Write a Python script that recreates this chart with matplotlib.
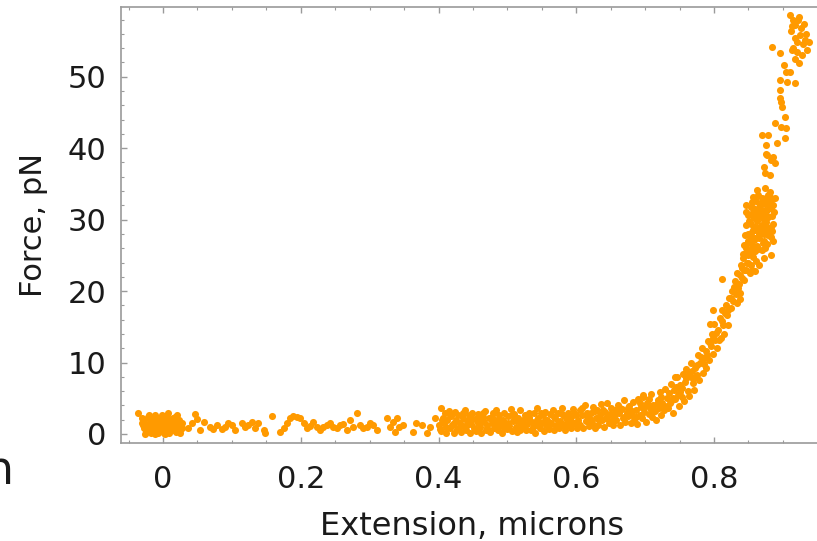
import matplotlib
matplotlib.use("Agg")
import matplotlib.pyplot as plt
from matplotlib.ticker import MultipleLocator
import numpy as np

# ---------------- data ----------------
# dense blob around zero extension
ext_blob = [-0.036, -0.031, -0.030, -0.028, -0.027, -0.025, -0.024, -0.022, -0.021, -0.019,
            -0.018, -0.017, -0.015, -0.014, -0.013, -0.011, -0.010, -0.009, -0.008, -0.006,
            -0.005, -0.004, -0.003, -0.001, 0.000, 0.001, 0.002, 0.004, 0.005, 0.006,
            0.007, 0.008, 0.009, 0.011, 0.012, 0.013, 0.015, 0.016, 0.018, 0.019,
            0.020, 0.022, 0.023, 0.025, 0.027, 0.028, -0.026, -0.020, -0.012, -0.002,
            0.003, 0.010, -0.016, -0.007, 0.014, -0.023, 0.017, 0.021, -0.029, 0.024]
force_blob = [2.9, 2.2, 1.5, 0.8, 1.9, 0.3, 1.2, 2.4, 0.6, 1.7,
              0.1, 1.0, 2.1, 0.4, 1.4, 2.6, 0.8, 1.8, 0.2, 1.2,
              2.3, 0.5, 1.6, 0.9, 2.0, 0.2, 1.3, 2.5, 0.6, 1.7,
              2.9, 1.0, 0.1, 2.1, 1.4, 0.5, 1.8, 0.9, 2.4, 0.3,
              1.5, 1.1, 2.0, 0.6, 1.6, 0.9, 0.0, 2.7, 0.0, 2.7,
              0.0, 1.9, 1.3, 0.7, 2.3, 1.0, 1.2, 2.6, 1.3, 0.2]

# sparse points between 0.03 and 0.40 microns
ext_sparse = [0.037, 0.042, 0.046, 0.050, 0.054, 0.059, 0.068, 0.073, 0.078, 0.085,
              0.090, 0.095, 0.100, 0.105, 0.114, 0.119, 0.124, 0.129, 0.134, 0.138,
              0.146, 0.148, 0.158, 0.170, 0.175, 0.180, 0.184, 0.189, 0.194, 0.199,
              0.204, 0.209, 0.213, 0.218, 0.223, 0.228, 0.233, 0.238, 0.242, 0.247,
              0.252, 0.257, 0.262, 0.267, 0.271, 0.276, 0.281, 0.286, 0.291, 0.296,
              0.301, 0.305, 0.310, 0.325, 0.330, 0.334, 0.337, 0.339, 0.342, 0.349,
              0.363, 0.368, 0.376, 0.383, 0.388, 0.395, 0.402]
force_sparse = [0.79, 1.49, 2.75, 2.05, 0.56, 1.73, 1.03, 0.70, 1.26, 0.65,
                1.03, 1.49, 1.26, 0.56, 1.49, 1.03, 1.26, 1.73, 0.79, 1.49,
                0.56, 0.19, 2.52, 0.33, 0.79, 1.49, 2.19, 2.52, 2.42, 2.19,
                1.49, 0.79, 1.12, 1.73, 1.03, 0.56, 1.03, 1.26, 1.49, 1.03,
                0.79, 1.26, 1.40, 0.56, 1.96, 1.03, 2.89, 1.26, 0.79, 1.03,
                1.49, 1.26, 0.56, 2.19, 1.03, 1.73, 0.33, 2.19, 1.03, 1.26,
                0.33, 1.49, 1.26, 0.19, 1.03, 2.19, 0.65]

# dense band from 0.40 to 0.73 microns
ext_band = [0.401, 0.403, 0.404, 0.406, 0.408, 0.409, 0.411, 0.413, 0.415, 0.417,
            0.418, 0.420, 0.422, 0.424, 0.425, 0.427, 0.429, 0.431, 0.433, 0.435,
            0.436, 0.438, 0.440, 0.442, 0.444, 0.446, 0.447, 0.449, 0.451, 0.453,
            0.455, 0.457, 0.458, 0.460, 0.462, 0.464, 0.466, 0.468, 0.469, 0.471,
            0.473, 0.475, 0.477, 0.479, 0.480, 0.482, 0.484, 0.486, 0.488, 0.490,
            0.492, 0.494, 0.495, 0.497, 0.499, 0.501, 0.503, 0.505, 0.506, 0.508,
            0.510, 0.512, 0.514, 0.516, 0.518, 0.519, 0.521, 0.523, 0.525, 0.527,
            0.529, 0.531, 0.532, 0.534, 0.536, 0.538, 0.540, 0.542, 0.543, 0.545,
            0.547, 0.549, 0.551, 0.553, 0.555, 0.556, 0.558, 0.560, 0.562, 0.564,
            0.566, 0.568, 0.569, 0.571, 0.573, 0.575, 0.577, 0.579, 0.581, 0.582,
            0.584, 0.586, 0.588, 0.590, 0.592, 0.593, 0.595, 0.597, 0.599, 0.601,
            0.603, 0.605, 0.606, 0.608, 0.610, 0.612, 0.614, 0.616, 0.618, 0.619,
            0.621, 0.623, 0.625, 0.627, 0.629, 0.630, 0.632, 0.634, 0.636, 0.638,
            0.640, 0.642, 0.643, 0.645, 0.647, 0.649, 0.651, 0.653, 0.655, 0.656,
            0.658, 0.660, 0.662, 0.664, 0.666, 0.668, 0.669, 0.671, 0.673, 0.675,
            0.677, 0.679, 0.681, 0.682, 0.684, 0.686, 0.688, 0.690, 0.692, 0.694,
            0.695, 0.697, 0.699, 0.701, 0.703, 0.705, 0.707, 0.708, 0.710, 0.712,
            0.714, 0.716, 0.718, 0.720, 0.721, 0.723, 0.725, 0.727, 0.729, 0.731]
force_band = [1.2, 3.6, 0.4, 2.3, 1.6, 2.9, 0.2, 1.9, 3.2, 0.8,
              2.5, 1.3, 0.1, 3.1, 1.9, 0.7, 2.7, 1.5, 0.3, 2.2,
              1.1, 3.3, 0.5, 1.8, 2.6, 0.2, 1.4, 3.0, 0.9, 2.1,
              0.4, 1.6, 2.8, 1.0, 0.1, 2.4, 1.7, 3.2, 0.6, 1.3,
              2.2, 0.3, 1.5, 2.9, 0.9, 1.9, 3.4, 0.5, 2.6, 1.2,
              0.2, 2.0, 3.0, 1.4, 0.7, 2.5, 1.1, 3.5, 0.4, 1.8,
              2.8, 1.0, 0.3, 2.2, 1.5, 3.3, 0.8, 1.9, 2.7, 0.5,
              1.4, 3.0, 2.1, 0.6, 1.7, 2.9, 0.2, 1.2, 3.6, 2.3,
              0.9, 1.6, 2.6, 0.4, 3.1, 1.3, 2.0, 0.7, 2.8, 1.5,
              3.4, 0.5, 2.2, 1.1, 2.9, 0.8, 1.8, 3.7, 1.3, 2.5,
              0.6, 1.9, 3.0, 1.2, 2.4, 0.9, 3.5, 1.6, 2.7, 0.8,
              2.0, 3.3, 1.3, 2.6, 0.9, 4.0, 1.8, 3.0, 2.2, 1.1,
              2.9, 1.5, 3.8, 0.8, 2.3, 3.4, 1.2, 2.6, 4.2, 1.9,
              1.0, 3.1, 2.2, 4.4, 1.6, 2.8, 3.7, 1.3, 2.5, 3.3,
              1.9, 4.1, 2.9, 1.2, 3.5, 2.2, 4.7, 1.7, 3.0, 2.5,
              3.9, 1.5, 2.7, 4.5, 2.0, 3.4, 1.4, 4.9, 2.6, 3.8,
              2.2, 5.2, 3.1, 1.7, 4.3, 2.8, 3.6, 5.6, 2.4, 4.0,
              3.2, 2.0, 4.8, 3.7, 5.9, 2.7, 4.4, 3.3, 6.3, 5.0]

# extra points filling the middle of the band
ext_band2 = [0.405, 0.411, 0.417, 0.423, 0.429, 0.435, 0.441, 0.447, 0.453, 0.459,
             0.465, 0.471, 0.477, 0.483, 0.489, 0.495, 0.501, 0.507, 0.513, 0.519,
             0.525, 0.531, 0.537, 0.543, 0.549, 0.555, 0.561, 0.567, 0.573, 0.579,
             0.585, 0.591, 0.597, 0.603, 0.609, 0.615, 0.621, 0.627, 0.633, 0.639,
             0.645, 0.651, 0.657, 0.663, 0.669, 0.675, 0.681, 0.687, 0.693, 0.699,
             0.705, 0.711, 0.717, 0.723, 0.729]
force_band2 = [2.0, 1.0, 2.6, 1.6, 0.9, 2.9, 1.3, 2.3, 0.6, 1.9,
               2.9, 0.8, 2.4, 1.2, 1.9, 0.9, 1.6, 2.7, 1.9, 0.6,
               1.2, 2.4, 1.0, 1.9, 3.0, 2.0, 1.1, 2.4, 1.6, 2.8,
               1.4, 2.0, 3.0, 1.5, 3.6, 2.5, 1.9, 3.2, 2.0, 3.3,
               2.4, 1.8, 2.9, 3.6, 2.4, 3.6, 3.2, 2.4, 4.3, 3.8,
               4.9, 3.2, 4.2, 5.2, 3.9]

# steep rise from 0.73 to 0.86 microns
ext_rise = [0.733, 0.735, 0.736, 0.738, 0.740, 0.742, 0.744, 0.746, 0.747, 0.749,
            0.751, 0.753, 0.755, 0.757, 0.758, 0.760, 0.762, 0.764, 0.766, 0.767,
            0.769, 0.771, 0.773, 0.775, 0.777, 0.778, 0.780, 0.782, 0.784, 0.786,
            0.788, 0.789, 0.791, 0.793, 0.795, 0.797, 0.799, 0.800, 0.802, 0.804,
            0.806, 0.808, 0.810, 0.811, 0.813, 0.815, 0.817, 0.819, 0.821, 0.822,
            0.824, 0.826, 0.828, 0.830, 0.832, 0.833, 0.835, 0.837, 0.839, 0.841,
            0.842, 0.844, 0.846, 0.848, 0.850, 0.851, 0.853, 0.855, 0.857, 0.858,
            0.811, 0.799, 0.794, 0.743, 0.697,
            0.737, 0.741, 0.745, 0.750, 0.754, 0.759, 0.763, 0.768, 0.772, 0.776,
            0.781, 0.785, 0.790, 0.794, 0.798, 0.803, 0.807, 0.812, 0.816, 0.820,
            0.825, 0.829]
force_rise = [3.6, 5.7, 4.3, 7.0, 2.9, 6.1, 4.9, 8.0, 5.5, 3.9,
              6.8, 5.2, 8.4, 4.6, 7.3, 9.1, 6.0, 5.3, 8.0, 10.0,
              7.1, 6.1, 9.3, 8.2, 11.0, 7.6, 9.9, 12.0, 8.6, 10.6,
              11.6, 9.3, 13.0, 10.4, 12.3, 14.0, 11.2, 15.4, 13.1, 12.0,
              14.6, 16.2, 13.5, 17.3, 15.3, 14.0, 18.0, 16.6, 15.2, 19.0,
              17.6, 20.0, 18.6, 21.4, 19.6, 22.6, 20.5, 18.9, 23.6, 21.8,
              24.6, 22.9, 26.0, 24.0, 27.0, 25.3, 23.6, 27.6, 26.3, 28.5,
              21.7, 17.3, 15.4, 8.0, 5.5,
              4.6, 5.0, 6.6, 5.9, 6.5, 7.9, 8.4, 8.8, 8.0, 9.6,
              10.8, 9.8, 11.0, 12.8, 13.5, 14.2, 13.2, 15.8, 16.9, 17.4,
              19.0, 20.6]

# dense cluster near 30 pN
ext_cluster = [0.848, 0.852, 0.856, 0.860, 0.864, 0.868, 0.872, 0.876, 0.880, 0.884,
               0.850, 0.854, 0.858, 0.862, 0.866, 0.870, 0.874, 0.878, 0.882, 0.886,
               0.849, 0.853, 0.857, 0.861, 0.865, 0.869, 0.873, 0.877, 0.881, 0.885,
               0.851, 0.855, 0.859, 0.863, 0.867, 0.871, 0.875, 0.879, 0.883, 0.887,
               0.846, 0.850, 0.854, 0.858, 0.862, 0.866, 0.870, 0.874, 0.878, 0.882,
               0.847, 0.856, 0.860, 0.864, 0.868, 0.872, 0.876, 0.880, 0.884, 0.888,
               0.844, 0.852, 0.858, 0.861, 0.865, 0.869, 0.873, 0.877, 0.882, 0.886,
               0.845, 0.849, 0.853, 0.857, 0.861, 0.865, 0.869, 0.873, 0.877, 0.881,
               0.847, 0.851, 0.855, 0.859, 0.863, 0.867, 0.871, 0.875, 0.879, 0.883,
               0.836, 0.840, 0.843, 0.838, 0.842, 0.846, 0.834, 0.838, 0.855, 0.860]
force_cluster = [25.5, 26.8, 24.8, 27.5, 25.9, 28.4, 27.0, 29.6, 28.8, 30.5,
                 28.0, 29.4, 30.2, 26.3, 31.0, 29.2, 32.2, 27.8, 31.6, 29.4,
                 30.6, 31.8, 28.6, 32.6, 28.0, 33.0, 30.0, 31.3, 33.2, 32.0,
                 27.0, 32.4, 31.4, 29.8, 32.0, 26.7, 28.4, 33.4, 29.0, 31.0,
                 29.2, 24.0, 30.8, 27.2, 30.6, 27.4, 31.4, 26.0, 30.4, 27.6,
                 32.0, 33.2, 29.0, 33.4, 30.3, 28.8, 33.0, 32.4, 28.4, 33.0,
                 26.4, 22.6, 25.6, 24.2, 23.6, 25.8, 24.6, 26.6, 25.0, 27.0,
                 27.8, 25.0, 28.2, 31.6, 28.6, 31.8, 30.8, 28.0, 30.4, 31.8,
                 31.0, 29.8, 26.0, 25.6, 31.2, 29.0, 32.6, 30.6, 28.8, 32.8,
                 21.0, 23.2, 21.6, 19.8, 25.2, 23.0, 18.4, 22.2, 23.0, 22.8]

# upper tail up to ~58 pN
ext_top = [0.862, 0.874, 0.881, 0.872, 0.874, 0.881, 0.876, 0.882, 0.888, 0.886,
           0.869, 0.879, 0.876, 0.891, 0.903, 0.889, 0.897, 0.905, 0.903, 0.898,
           0.896, 0.896, 0.897, 0.896, 0.906, 0.917, 0.901, 0.905, 0.910, 0.913,
           0.918, 0.923, 0.884, 0.896, 0.910, 0.914, 0.918, 0.922, 0.926, 0.930,
           0.934, 0.912, 0.917, 0.921, 0.925, 0.929, 0.935, 0.938, 0.915, 0.920,
           0.927, 0.932, 0.924, 0.913, 0.877]
force_top = [34.1, 34.4, 33.9, 37.4, 36.5, 36.2, 39.2, 38.4, 37.9, 38.8,
             41.8, 41.8, 40.4, 40.7, 41.4, 43.5, 43.0, 42.8, 44.3, 45.7,
             48.1, 47.0, 46.5, 49.5, 49.3, 49.1, 51.6, 50.6, 50.6, 53.7,
             52.5, 51.9, 54.2, 53.3, 58.6, 58.0, 57.2, 57.9, 56.8, 57.4,
             56.0, 56.4, 55.4, 54.8, 55.8, 54.6, 53.8, 54.9, 54.0, 53.5,
             53.0, 55.2, 58.3, 57.1, 39.0]

x_ticks = [0, 0.2, 0.4, 0.6, 0.8]
x_tick_labels = ["0", "0.2", "0.4", "0.6", "0.8"]
y_ticks = [0, 10, 20, 30, 40, 50]
y_tick_labels = ["0", "10", "20", "30", "40", "50"]

# ---------------- figure ----------------
W, H = 817, 541
fig = plt.figure(figsize=(W / 100, H / 100), dpi=100)
ax = fig.add_axes([121 / W, (H - 443) / H, (W - 121) / W, 436 / H])

orange = "#FF9A00"
ext_all = np.concatenate([ext_blob, ext_sparse, ext_band, ext_band2, ext_rise,
                          ext_cluster, ext_top])
force_all = np.concatenate([force_blob, force_sparse, force_band, force_band2, force_rise,
                            force_cluster, force_top])
ax.scatter(ext_all, force_all, s=26, color=orange, linewidths=0, zorder=3)

ax.set_xlim(-0.061, 0.9495)
ax.set_ylim(-1.26, 59.76)

ax.set_xticks(x_ticks)
ax.set_xticklabels(x_tick_labels)
ax.set_yticks(y_ticks)
ax.set_yticklabels(y_tick_labels)
ax.xaxis.set_minor_locator(MultipleLocator(0.05))
ax.yaxis.set_minor_locator(MultipleLocator(2))

spine_col = "#9a9a9a"
for side in ["left", "bottom", "top"]:
    ax.spines[side].set_color(spine_col)
    ax.spines[side].set_linewidth(1.2)
ax.spines["right"].set_visible(False)

ax.tick_params(which="both", direction="in", top=True, right=False,
               color=spine_col, labelcolor="#1a1a1a")
ax.tick_params(which="major", length=4, width=1.0)
ax.tick_params(which="minor", length=2.3, width=0.8)
ax.tick_params(axis="x", pad=16.0, labelsize=22)
ax.tick_params(axis="y", pad=10.5, labelsize=22)

ax.set_xlabel("Extension, microns", fontsize=23, color="#1a1a1a")
ax.xaxis.set_label_coords(0.504, -0.211)
ax.xaxis.label.set_va("baseline")

ax.set_ylabel("Force, pN", fontsize=22, color="#1a1a1a")
ax.yaxis.set_label_coords(-0.105, 0.5)

# fragment of neighbouring text at the left edge
fig.text(14 / W, 1 - 484 / H, "n", fontsize=33, ha="right", va="baseline", color="#1a1a1a")

fig.savefig("out.png", dpi=100)
